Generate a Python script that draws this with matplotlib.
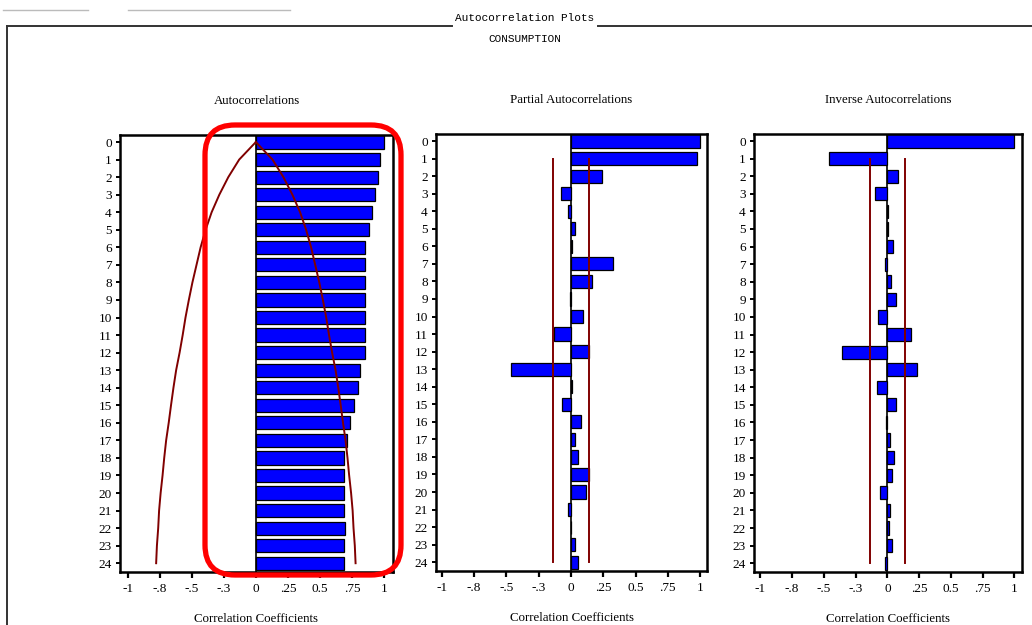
import matplotlib
matplotlib.use("Agg")
import matplotlib.pyplot as plt
import numpy as np
from matplotlib.patches import FancyBboxPatch
from matplotlib.lines import Line2D

# lags 0..24 for CONSUMPTION
lags = np.arange(25)

acf = [1.0, 0.97, 0.955, 0.93, 0.905, 0.88, 0.855, 0.855, 0.855, 0.855,
       0.855, 0.848, 0.855, 0.815, 0.795, 0.763, 0.737, 0.711, 0.685, 0.685,
       0.685, 0.685, 0.693, 0.685, 0.685]

# two standard-error band for the autocorrelations
acf_bound = [0.0, 0.13, 0.215, 0.285, 0.345, 0.392, 0.431, 0.463, 0.495, 0.523,
             0.549, 0.571, 0.595, 0.622, 0.643, 0.662, 0.68, 0.70, 0.715, 0.728,
             0.743, 0.755, 0.762, 0.772, 0.778]

pacf = [1.0, 0.975, 0.237, -0.078, -0.026, 0.034, 0.005, 0.322, 0.16, -0.005,
        0.09, -0.13, 0.14, -0.467, 0.005, -0.072, 0.075, 0.034, 0.055, 0.14,
        0.115, -0.02, 0.003, 0.03, 0.055]

iacf = [1.0, -0.46, 0.08, -0.10, 0.005, 0.003, 0.045, -0.015, 0.03, 0.07,
        -0.07, 0.19, -0.355, 0.23, -0.085, 0.07, -0.01, 0.02, 0.05, 0.035,
        -0.055, 0.02, 0.015, 0.035, -0.02]

band = 0.14

xticks = [-1, -0.75, -0.5, -0.25, 0, 0.25, 0.5, 0.75, 1]
xtick_labels = ['-1', '-.8', '-.5', '-.3', '0', '.25', '0.5', '.75', '1']

serif = ['Liberation Serif', 'DejaVu Serif']
mono = ['Liberation Mono', 'DejaVu Sans Mono']

W, H = 1032, 625
fig = plt.figure(figsize=(W / 100, H / 100), dpi=100)
fig.patch.set_facecolor('white')


def px_axes(x0, y0, x1, y1):
    return fig.add_axes([x0 / W, 1 - y1 / H, (x1 - x0) / W, (y1 - y0) / H])


def style_panel(ax, title, xlim):
    ax.set_xlim(*xlim)
    ax.set_ylim(24.5, -0.4)
    ax.axvline(0, color='black', lw=1.2, zorder=1)
    for s in ax.spines.values():
        s.set_linewidth(1.8)
        s.set_color('black')
    ax.set_xticks(xticks)
    ax.set_xticklabels(xtick_labels, fontfamily=serif, fontsize=9.5)
    ax.set_yticks(lags)
    ax.set_yticklabels([str(l) for l in lags], fontfamily=serif, fontsize=9.5)
    ax.tick_params(axis='x', direction='out', length=4, width=1.6, pad=4)
    ax.tick_params(axis='y', direction='out', length=3, width=1.4, pad=3)
    ax.set_title(title, fontfamily=serif, fontsize=9.3, pad=22)
    ax.set_xlabel('Correlation Coefficients', fontfamily=serif, fontsize=9.3,
                  labelpad=13)


bar_kw = dict(height=0.75, color='#0000ff', edgecolor='black', linewidth=0.9,
              zorder=2)
band_color = '#800000'

# autocorrelations with widening band
ax1 = px_axes(120, 135, 393, 572)
ax1.barh(lags, acf, **bar_kw)
ax1.plot(acf_bound, lags, color=band_color, lw=1.4, zorder=3)
ax1.plot(-np.array(acf_bound), lags, color=band_color, lw=1.4, zorder=3)
style_panel(ax1, 'Autocorrelations', (-1.06, 1.07))

# partial autocorrelations
ax2 = px_axes(436, 134, 707, 571)
ax2.barh(lags, pacf, **bar_kw)
ax2.plot([band, band], [1, 24], color=band_color, lw=1.4, zorder=3)
ax2.plot([-band, -band], [1, 24], color=band_color, lw=1.4, zorder=3)
style_panel(ax2, 'Partial Autocorrelations', (-1.045, 1.053))

# inverse autocorrelations
ax3 = px_axes(754, 134, 1022, 572)
ax3.barh(lags, iacf, **bar_kw)
ax3.plot([band, band], [1, 24], color=band_color, lw=1.4, zorder=3)
ax3.plot([-band, -band], [1, 24], color=band_color, lw=1.4, zorder=3)
style_panel(ax3, 'Inverse Autocorrelations', (-1.05, 1.06))

# outer frame with the title set into its top edge
frame = dict(color='#333333', lw=1.4, transform=fig.transFigure)
fig.add_artist(Line2D([7 / W, 7 / W], [0, 1 - 26 / H], **frame))
fig.add_artist(Line2D([7 / W, 452 / W], [1 - 26 / H, 1 - 26 / H], **frame))
fig.add_artist(Line2D([598 / W, 1], [1 - 26 / H, 1 - 26 / H], **frame))
fig.text(525 / W, 1 - 18 / H, 'Autocorrelation Plots', ha='center',
         va='center', fontfamily=mono, fontsize=8)
fig.text(525 / W, 1 - 39 / H, 'CONSUMPTION', ha='center', va='center',
         fontfamily=mono, fontsize=8)

# faint rules along the top edge
rule = dict(color='#bbbbbb', lw=1.0, transform=fig.transFigure)
fig.add_artist(Line2D([3 / W, 88 / W], [1 - 10 / H, 1 - 10 / H], **rule))
fig.add_artist(Line2D([128 / W, 290 / W], [1 - 10 / H, 1 - 10 / H], **rule))

# red highlight around the positive autocorrelations
box = FancyBboxPatch((2.05, 0.50), 1.96, 4.50,
                     boxstyle='round,pad=0,rounding_size=0.3',
                     transform=fig.dpi_scale_trans, fill=False,
                     edgecolor='#ff0000', lw=3.8, zorder=10)
fig.add_artist(box)

fig.savefig('out.png', dpi=100)
